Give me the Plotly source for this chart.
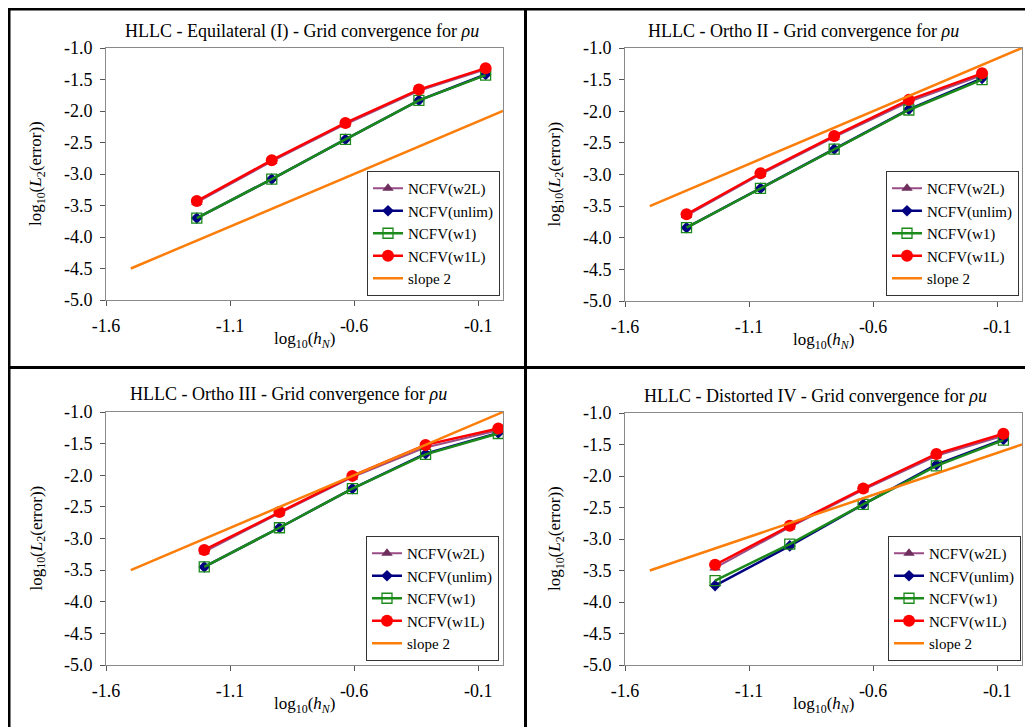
import plotly.graph_objects as go

# page is offset by the browser's 8px body margin; figure sized to fill the rest
PAGE_W, PAGE_H = 1033, 727
OFF = 8
W, H = PAGE_W - OFF, PAGE_H - OFF

# ---------------- data ----------------
panel_titles = [
    "HLLC - Equilateral (I) - Grid convergence for <i>ρu</i>",
    "HLLC - Ortho II - Grid convergence for <i>ρu</i>",
    "HLLC - Ortho III - Grid convergence for <i>ρu</i>",
    "HLLC - Distorted IV - Grid convergence for <i>ρu</i>",
]
series_names = ["NCFV(w2L)", "NCFV(unlim)", "NCFV(w1)", "NCFV(w1L)", "slope 2"]

x_I = [-1.234, -0.932, -0.635, -0.339, -0.070]
w2L_I = [-3.45, -2.80, -2.21, -1.68, -1.34]
unlim_I = [-3.70, -3.08, -2.45, -1.83, -1.42]
w1_I = [-3.70, -3.08, -2.45, -1.83, -1.43]
w1L_I = [-3.43, -2.78, -2.19, -1.66, -1.32]
slope_x_I = [-1.5, 0.0]
slope_y_I = [-4.5, -2.0]

x_II = [-1.352, -1.054, -0.757, -0.456, -0.161]
w2L_II = [-3.65, -3.00, -2.41, -1.85, -1.43]
unlim_II = [-3.84, -3.22, -2.60, -1.97, -1.48]
w1_II = [-3.84, -3.22, -2.60, -1.98, -1.50]
w1L_II = [-3.63, -2.98, -2.39, -1.82, -1.40]
slope_x_II = [-1.5, 0.0]
slope_y_II = [-3.5, -1.0]

x_III = [-1.204, -0.901, -0.607, -0.312, -0.019]
w2L_III = [-3.21, -2.60, -2.03, -1.56, -1.29]
unlim_III = [-3.45, -2.83, -2.21, -1.66, -1.33]
w1_III = [-3.45, -2.83, -2.21, -1.67, -1.34]
w1L_III = [-3.18, -2.58, -2.01, -1.52, -1.26]
slope_x_III = [-1.5, 0.0]
slope_y_III = [-3.5, -1.0]

x_IV = [-1.237, -0.936, -0.640, -0.345, -0.075]
w2L_IV = [-3.46, -2.81, -2.22, -1.68, -1.36]
unlim_IV = [-3.74, -3.11, -2.45, -1.82, -1.42]
w1_IV = [-3.66, -3.08, -2.45, -1.84, -1.43]
w1L_IV = [-3.41, -2.79, -2.20, -1.65, -1.33]
slope_x_IV = [-1.5, 0.0]
slope_y_IV = [-3.5, -1.5]

x_ticks = [-1.6, -1.1, -0.6, -0.1]
x_tick_labels = ["-1.6", "-1.1", "-0.6", "-0.1"]
y_ticks = [-5.0, -4.5, -4.0, -3.5, -3.0, -2.5, -2.0, -1.5, -1.0]
y_tick_labels = ["-5.0", "-4.5", "-4.0", "-3.5", "-3.0", "-2.5", "-2.0", "-1.5", "-1.0"]

panels = [
    (x_I, w2L_I, unlim_I, w1_I, w1L_I, slope_x_I, slope_y_I),
    (x_II, w2L_II, unlim_II, w1_II, w1L_II, slope_x_II, slope_y_II),
    (x_III, w2L_III, unlim_III, w1_III, w1L_III, slope_x_III, slope_y_III),
    (x_IV, w2L_IV, unlim_IV, w1_IV, w1L_IV, slope_x_IV, slope_y_IV),
]

# ---------------- layout geometry (page pixels) ----------------
areas = [(106, 48, 503, 300), (625, 48, 1022, 301), (106, 412, 503, 665), (625, 413, 1022, 665)]
title_pos = [(302, 31), (803, 31), (288, 394), (815, 396)]
legend_pos = [(500, 296), (1019, 296), (499, 661), (1021, 661)]

FONT = "Liberation Serif, Times New Roman, serif"

def px(x):
    return (x - OFF) / W

def py(y):
    return 1 - (y - OFF) / H

colors = {
    "w2L_line": "#9a4c86", "w2L_mk": "#6e2f5e",
    "unlim": "#000080",
    "w1": "#1b8a1b",
    "w1L": "#ff0000",
    "slope": "#fb7d0a",
}

fig = go.Figure()

for i, (xs, w2L, unlim, w1, w1L, sx, sy) in enumerate(panels):
    k = "" if i == 0 else str(i + 1)
    xa, ya = "x" + k, "y" + k
    leg = "legend" + k
    fig.add_trace(go.Scatter(x=xs, y=w2L, name=series_names[0], mode="lines+markers", xaxis=xa, yaxis=ya,
                             legend=leg,
                             line=dict(color=colors["w2L_line"], width=2),
                             marker=dict(symbol="triangle-up", size=10, color=colors["w2L_mk"])))
    fig.add_trace(go.Scatter(x=xs, y=unlim, name=series_names[1], mode="lines+markers", xaxis=xa, yaxis=ya,
                             legend=leg,
                             line=dict(color=colors["unlim"], width=2.5),
                             marker=dict(symbol="diamond", size=9, color=colors["unlim"])))
    fig.add_trace(go.Scatter(x=xs, y=w1, name=series_names[2], mode="lines+markers", xaxis=xa, yaxis=ya,
                             legend=leg,
                             line=dict(color=colors["w1"], width=2.5),
                             marker=dict(symbol="square-open", size=10, color=colors["w1"],
                                         line=dict(width=1.3, color=colors["w1"]))))
    fig.add_trace(go.Scatter(x=xs, y=w1L, name=series_names[3], mode="lines+markers", xaxis=xa, yaxis=ya,
                             legend=leg,
                             line=dict(color=colors["w1L"], width=2.5),
                             marker=dict(symbol="circle", size=12, color=colors["w1L"])))
    fig.add_trace(go.Scatter(x=sx, y=sy, name=series_names[4], mode="lines", xaxis=xa, yaxis=ya,
                             legend=leg,
                             line=dict(color=colors["slope"], width=2.5)))

    l, t, r, b = areas[i]
    axis_common = dict(showline=True, linecolor="#8a8a8a", linewidth=1, mirror=True,
                       showgrid=False, zeroline=False, ticks="outside", ticklen=5,
                       tickcolor="#555555", tickwidth=1, automargin=False,
                       ticklabelstandoff=4,
                       tickfont=dict(family=FONT, size=18, color="#000000"))
    fig.layout["xaxis" + k] = dict(domain=[px(l), px(r)], anchor=ya, range=[-1.6, 0.0],
                                   tickvals=x_ticks, ticktext=x_tick_labels, **axis_common)
    fig.layout["yaxis" + k] = dict(domain=[py(b), py(t)], anchor=xa, range=[-5.0, -1.0],
                                   tickvals=y_ticks, ticktext=y_tick_labels, **axis_common)

    lx, by = legend_pos[i]
    fig.layout[leg] = dict(x=px(lx), y=py(by), xanchor="right", yanchor="bottom",
                           bgcolor="white", bordercolor="#333333", borderwidth=1,
                           font=dict(family=FONT, size=15, color="#000000"),
                           tracegroupgap=0, itemwidth=30)

    tx, ty = title_pos[i]
    fig.add_annotation(text=panel_titles[i], x=px(tx), y=py(ty), xref="paper", yref="paper",
                       xanchor="center", yanchor="middle",
                       showarrow=False, font=dict(family=FONT, size=18, color="#000000"))
    cy = (t + b) / 2
    cx = (l + r) / 2
    fig.add_annotation(text="log<sub>10</sub>(<i>L</i><sub>2</sub>(error))", x=px(l - 69), y=py(cy),
                       xref="paper", yref="paper", xanchor="center", yanchor="middle",
                       showarrow=False, textangle=-90,
                       font=dict(family=FONT, size=17, color="#000000"))
    fig.add_annotation(text="log<sub>10</sub>(<i>h<sub>N</sub></i>)", x=px(cx), y=py(b + 40),
                       xref="paper", yref="paper", xanchor="center", yanchor="middle",
                       showarrow=False,
                       font=dict(family=FONT, size=17, color="#000000"))

# panel frame lines (page pixels)
frame = [
    (8, 9, PAGE_W, 9),
    (9, 8, 9, PAGE_H),
    (525.5, 8, 525.5, PAGE_H),
    (8, 367.5, PAGE_W, 367.5),
]
for x0, y0, x1, y1 in frame:
    fig.add_shape(type="line", xref="paper", yref="paper", x0=px(x0), y0=py(y0), x1=px(x1), y1=py(y1),
                  line=dict(color="black", width=3))

fig.update_layout(width=W, height=H, margin=dict(l=0, r=0, t=0, b=0, pad=0, autoexpand=False),
                  paper_bgcolor="white", plot_bgcolor="white",
                  font=dict(family=FONT))

fig.write_html("out.html")
